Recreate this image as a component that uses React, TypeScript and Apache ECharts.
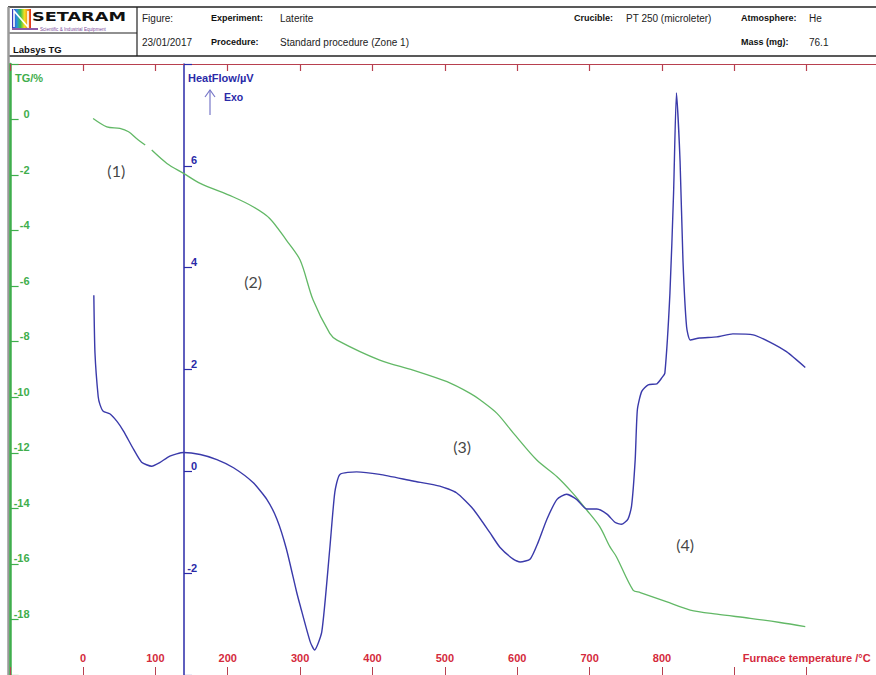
import React, { useEffect, useRef } from "react";
import * as echarts from "echarts";

// ---- axis ticks / titles ----
const tempLabelValues = [0, 100, 200, 300, 400, 500, 600, 700, 800];
const tempAxisTitle = "Furnace temperature /°C";
const tgLabelValues = [0, -2, -4, -6, -8, -10, -12, -14, -16, -18];
const hfLabelValues = [-2, 0, 2, 4, 6];

// ---- TG curve (temperature °C, mass change %) ----
const tgTemp = [14, 33, 51, 63, 74, 86, 90, 95, 116, 139, 162, 207, 235, 258, 281, 300, 318, 341, 351, 410, 456, 503, 535, 549, 572, 595, 627, 655, 677, 696, 714, 728, 737, 760, 770, 806, 839, 876, 922, 963, 998];
const tgValue = [0.04, -0.26, -0.32, -0.44, -0.68, -0.92, null, -1.1, -1.58, -1.94, -2.3, -2.78, -3.14, -3.56, -4.34, -5.06, -6.5, -7.7, -7.94, -8.66, -9.02, -9.44, -9.86, -10.1, -10.58, -11.3, -12.26, -12.86, -13.46, -14.06, -14.66, -15.38, -15.74, -16.94, -17.03, -17.36, -17.66, -17.81, -17.96, -18.11, -18.26];

// ---- Heat flow curve (temperature °C, µV) ----
const hfTemp = [15, 16.6, 21, 23.5, 28, 37, 47, 56, 70, 81, 95, 106, 120, 139, 162, 185, 208, 235, 254, 268, 281, 295, 300, 314, 320, 330, 341, 348, 355, 378, 410, 456, 493, 516, 539, 562, 576, 595, 604, 618, 629, 641, 655, 668, 682, 696, 710, 724, 735, 744, 753, 758, 763, 766, 772, 781, 793, 800, 804, 811, 816, 820, 825, 829, 834, 839, 852, 876, 898, 926, 949, 972, 998];
const hfValue = [3.46, 2.32, 1.47, 1.31, 1.18, 1.13, 0.98, 0.79, 0.43, 0.18, 0.1, 0.17, 0.3, 0.37, 0.33, 0.23, 0.07, -0.22, -0.55, -0.94, -1.52, -2.36, -2.63, -3.35, -3.51, -3.15, -1.52, -0.41, -0.06, -0.01, -0.06, -0.19, -0.29, -0.42, -0.74, -1.2, -1.49, -1.73, -1.78, -1.72, -1.39, -0.94, -0.55, -0.45, -0.55, -0.74, -0.74, -0.84, -1.0, -1.04, -0.94, -0.68, 0.23, 1.21, 1.57, 1.7, 1.72, 1.84, 1.93, 3.5, 5.45, 7.43, 6.09, 4.14, 2.84, 2.58, 2.62, 2.64, 2.7, 2.68, 2.54, 2.35, 2.04];

// ---- stage annotations (placed in TG coordinates) ----
const stageLabels = ["(1)", "(2)", "(3)", "(4)"];
const stageTemp = [46, 235, 524, 832];
const stageTG = [-1.82, -5.82, -11.76, -15.29];

// ---- header ----
const headerPlain = [
  { text: "Figure:", x: 142, y: 18 },
  { text: "Laterite", x: 280, y: 18 },
  { text: "23/01/2017", x: 142, y: 42 },
  { text: "Standard procedure (Zone 1)", x: 280, y: 42 },
  { text: "PT 250 (microleter)", x: 626, y: 18 },
  { text: "He", x: 809, y: 18 },
  { text: "76.1", x: 809, y: 42 },
];
const headerBold = [
  { text: "Experiment:", x: 211, y: 18 },
  { text: "Procedure:", x: 211, y: 42 },
  { text: "Crucible:", x: 574, y: 18 },
  { text: "Atmosphere:", x: 741, y: 18 },
  { text: "Mass (mg):", x: 741, y: 42 },
];

const GREEN = "#3fae4c";
const GREEN_LINE = "#62b866";
const BLUE = "#2a2aa8";
const BLUE_LINE = "#3a3aaa";
const RED = "#d42a3c";
const RED_LINE = "#b8404f";

function txt(text: string, x: number, y: number, font: string, fill: string, extra: any = {}) {
  return {
    type: "text",
    x,
    y,
    silent: true,
    ...extra,
    style: {
      text,
      font,
      fill,
      align: "left",
      textAlign: "left",
      verticalAlign: "middle",
      textVerticalAlign: "middle",
    },
  };
}

function line(x1: number, y1: number, x2: number, y2: number, stroke: string, lineWidth: number) {
  return { type: "line", silent: true, shape: { x1, y1, x2, y2 }, style: { stroke, lineWidth } };
}

export default function App() {
  const ref = useRef<HTMLDivElement>(null);

  useEffect(() => {
    if (!ref.current) return;
    const chart = echarts.init(ref.current, null, { renderer: "svg" });

    const tgData = tgTemp.map((t, i) => [t, tgValue[i]]);
    const hfData = hfTemp.map((t, i) => [t, hfValue[i]]);
    const stageData = stageLabels.map((s, i) => ({ name: s, value: [stageTemp[i], stageTG[i]] }));

    const plainFont = '10px "Liberation Sans", Arial, sans-serif';
    const boldFont = 'bold 9px "Liberation Sans", Arial, sans-serif';

    const option: any = {
      animation: false,
      backgroundColor: "#ffffff",
      grid: {
        left: 10.6,
        top: 64,
        width: 868.5,
        height: 611,
        containLabel: false,
        outerBoundsMode: "none",
      },
      xAxis: [
        {
          type: "value",
          position: "bottom",
          min: -100,
          max: 1100,
          interval: 100,
          splitLine: { show: false },
          axisLine: { show: false, onZero: false },
          axisTick: { show: true, inside: true, length: 8, lineStyle: { color: RED_LINE, width: 1 } },
          axisLabel: {
            show: true,
            inside: true,
            margin: 12,
            color: RED,
            fontWeight: "bold",
            fontSize: 11,
            fontFamily: '"Liberation Sans", Arial, sans-serif',
            showMinLabel: true,
            showMaxLabel: true,
            formatter: (v: number) =>
              tempLabelValues.includes(v) ? String(v) : v === 1000 ? tempAxisTitle : "",
          },
        },
        {
          type: "value",
          position: "top",
          min: -100,
          max: 1100,
          interval: 100,
          splitLine: { show: false },
          axisLine: { show: true, onZero: false, lineStyle: { color: RED_LINE, width: 1.2 } },
          axisTick: { show: true, inside: true, interval: 0, length: 7, lineStyle: { color: RED_LINE, width: 1.2 } },
          axisLabel: { show: true, inside: true, formatter: () => "" },
        },
      ],
      yAxis: [
        {
          type: "value",
          position: "left",
          min: -20,
          max: 2,
          interval: 2,
          splitLine: { show: false },
          axisLine: { show: true, onZero: false, lineStyle: { color: GREEN, width: 2.5 } },
          axisTick: { show: true, inside: true, length: 8, lineStyle: { color: GREEN, width: 1.2 } },
          axisLabel: {
            show: true,
            inside: true,
            margin: 19,
            align: "right",
            verticalAlign: "bottom",
            color: GREEN,
            fontWeight: "bold",
            fontSize: 11,
            fontFamily: '"Liberation Sans", Arial, sans-serif',
            showMinLabel: true,
            showMaxLabel: true,
            formatter: (v: number) => (tgLabelValues.includes(v) ? String(v) : ""),
          },
        },
        {
          type: "value",
          position: "left",
          offset: -173.4,
          min: -4,
          max: 8,
          interval: 2,
          splitLine: { show: false },
          axisLine: { show: true, onZero: false, lineStyle: { color: BLUE, width: 1.5 } },
          axisTick: { show: true, inside: true, length: 8, lineStyle: { color: BLUE, width: 1.2 } },
          axisLabel: {
            show: true,
            inside: true,
            margin: 13,
            align: "right",
            verticalAlign: "bottom",
            color: BLUE,
            fontWeight: "bold",
            fontSize: 11,
            fontFamily: '"Liberation Sans", Arial, sans-serif',
            showMinLabel: true,
            showMaxLabel: true,
            formatter: (v: number) => (hfLabelValues.includes(v) ? String(v) : ""),
          },
        },
      ],
      series: [
        {
          name: "TG",
          type: "line",
          xAxisIndex: 0,
          yAxisIndex: 0,
          data: tgData,
          showSymbol: false,
          symbol: "none",
          connectNulls: false,
          smooth: 0.3,
          lineStyle: { color: GREEN_LINE, width: 1.3 },
          z: 3,
        },
        {
          name: "HeatFlow",
          type: "line",
          xAxisIndex: 0,
          yAxisIndex: 1,
          data: hfData,
          showSymbol: false,
          symbol: "none",
          smooth: 0.2,
          lineStyle: { color: BLUE_LINE, width: 1.4 },
          z: 4,
        },
        {
          name: "Stages",
          type: "scatter",
          xAxisIndex: 0,
          yAxisIndex: 0,
          data: stageData,
          symbolSize: 1,
          itemStyle: { color: "rgba(0,0,0,0)" },
          label: {
            show: true,
            position: "inside",
            formatter: "{b}",
            color: "#111",
            fontSize: 16,
            fontFamily: "Lato, 'Open Sans', sans-serif",
          },
          z: 5,
        },
      ],
      graphic: [
        // header frame
        line(8, 7, 876, 7, "#222", 1.5),
        line(8, 56, 876, 56, "#222", 1.5),
        line(137, 7, 137, 56, "#222", 1.2),
        line(8, 33, 137, 33, "#222", 1.2),
        line(8.5, 7, 8.5, 675, "#9a9a9a", 2.5),
        // logo
        {
          type: "rect",
          silent: true,
          shape: { x: 12, y: 9, width: 19, height: 19 },
          style: {
            fill: new echarts.graphic.LinearGradient(0, 0, 1, 0, [
              { offset: 0, color: "#3a2fb8" },
              { offset: 0.25, color: "#2a8fe0" },
              { offset: 0.45, color: "#3cc04a" },
              { offset: 0.65, color: "#f2e020" },
              { offset: 0.85, color: "#f08a1c" },
              { offset: 1, color: "#e0261c" },
            ]),
          },
        },
        {
          type: "polyline",
          silent: true,
          shape: { points: [[14, 27], [14, 11], [28, 27], [28, 11]] },
          style: { stroke: "#ffffff", lineWidth: 1.6, fill: null },
        },
        txt("SETARAM", 32, 17, 'bold 13px "DejaVu Sans", sans-serif', "#111", { scaleX: 1.36 }),
        {
          type: "rect",
          silent: true,
          shape: { x: 12, y: 28, width: 26, height: 2 },
          style: { fill: "#8a5aa8" },
        },
        txt("Scientific & Industrial Equipment", 40, 29.5, '4.6px "Liberation Sans", Arial, sans-serif', "#7a4a9a"),
        txt("Labsys TG", 13, 49, 'bold 9.5px "Liberation Sans", Arial, sans-serif', "#111"),
        ...headerPlain.map((h) => txt(h.text, h.x, h.y, plainFont, "#222")),
        ...headerBold.map((h) => txt(h.text, h.x, h.y, boldFont, "#111")),
        // axis titles
        txt("TG/%", 15, 78, 'bold 11px "Liberation Sans", Arial, sans-serif', GREEN),
        txt("HeatFlow/µV", 188, 78, 'bold 11px "Liberation Sans", Arial, sans-serif', BLUE),
        txt("Exo", 224, 97, 'bold 10.5px "Liberation Sans", Arial, sans-serif', BLUE),
        line(210, 90, 210, 115, "#7878c8", 1.2),
        {
          type: "polyline",
          silent: true,
          shape: { points: [[205, 97], [210, 90], [215, 97]] },
          style: { stroke: "#7878c8", lineWidth: 1.2, fill: null },
        },
      ],
    };

    chart.setOption(option);
    return () => chart.dispose();
  }, []);

  return (
    <div
      ref={ref}
      style={{ position: "fixed", left: 0, top: 0, width: 876, height: 675, background: "#fff" }}
    />
  );
}
